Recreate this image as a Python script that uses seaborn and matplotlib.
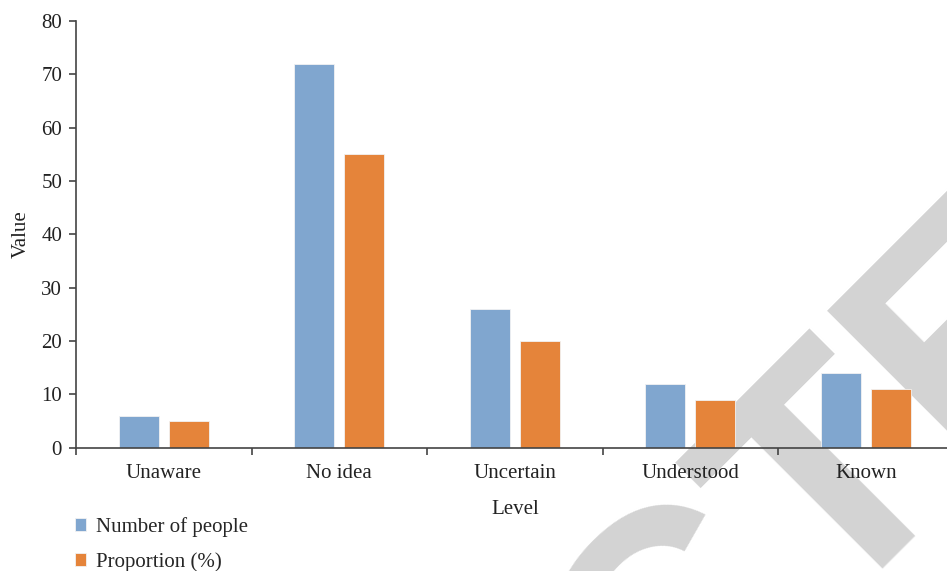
import numpy as np
import pandas as pd
import matplotlib
matplotlib.use("Agg")
import matplotlib.pyplot as plt
import seaborn as sns

levels = ["Unaware", "No idea", "Uncertain", "Understood", "Known"]
number_of_people = [6, 72, 26, 12, 14]
proportion = [5, 55, 20, 9, 11]
series_names = ["Number of people", "Proportion (%)"]

df = pd.DataFrame({
    "Level": levels * 2,
    "Value": number_of_people + proportion,
    "Series": [series_names[0]] * 5 + [series_names[1]] * 5,
})

sns.set_style("white")
plt.rcParams["font.family"] = ["Liberation Serif", "DejaVu Serif"]
fs = 15

fig = plt.figure(figsize=(9.47, 5.71), dpi=100)
ax = fig.add_axes([76 / 947, 1 - 447.7 / 571, 877.5 / 947, 426.7 / 571])
ax.patch.set_alpha(0)

# watermark behind the bars
fig.text(-126 / 947, 1 - 1555 / 571, "RETRACTED", rotation=45, rotation_mode="anchor",
         ha="left", va="baseline", fontsize=232, fontweight="bold",
         family="Liberation Sans", color="#d3d3d3", zorder=-1)

sns.barplot(data=df, x="Level", y="Value", hue="Series", order=levels,
            palette=["#80a6cf", "#e5843a"], saturation=1, width=0.57, gap=0.2,
            edgecolor="#f2f2f2", linewidth=0.6, ax=ax, legend=True)

ax.set_ylim(0, 80)
ax.set_xlim(-0.5, 4.5)
ax.set_yticks(range(0, 81, 10))
ax.set_xticks(np.arange(-0.5, 5, 1), minor=True)
ax.tick_params(axis="x", which="major", length=0, labelsize=fs, pad=12, colors="#222222")
ax.tick_params(axis="x", which="minor", length=5, direction="out", bottom=True,
               color="#444444", width=1.2)
ax.tick_params(axis="y", length=5, direction="out", left=True, labelsize=fs, pad=5,
               color="#444444", width=1.2, labelcolor="#222222")
for s in ["top", "right"]:
    ax.spines[s].set_visible(False)
for s in ["left", "bottom"]:
    ax.spines[s].set_color("#444444")
    ax.spines[s].set_linewidth(1.2)

ax.set_xlabel("Level", fontsize=fs, color="#222222")
ax.set_ylabel("Value", fontsize=fs, color="#222222")
ax.xaxis.set_label_coords(0.5, -0.122)
ax.yaxis.set_label_coords(-0.051, 0.5)

ax.legend(loc="upper left", bbox_to_anchor=(75 / 947, 1 - 517 / 571),
          bbox_transform=fig.transFigure, frameon=False, fontsize=fs,
          handlelength=0.55, handleheight=0.55, handletextpad=0.45, labelspacing=0.74,
          borderaxespad=0, borderpad=0)

fig.savefig("out.png", dpi=100)
